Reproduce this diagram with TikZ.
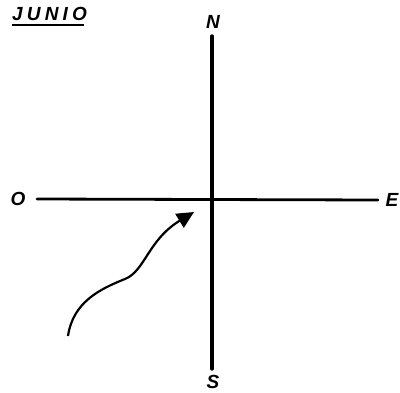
\documentclass[tikz,border=0pt]{standalone}
\usepackage{fontspec}
\setmainfont{Liberation Sans}
\usetikzlibrary{arrows.meta, positioning}
\begin{document}
\begin{tikzpicture}[x=1pt, y=-1pt,
      label/.style={font=\bfseries\itshape\fontsize{19}{19}\selectfont, inner sep=0pt},
      axis/.style={line width=3.4pt, draw=black, line cap=round},
      arrow/.style={-{Triangle[length=17pt, width=16pt]}, line width=2.2pt}
    ]
    \useasboundingbox (0,0) rectangle (400,392);
    % title
    \node[label, anchor=south west] (title) at (12,21) {\addfontfeatures{LetterSpace=22}JUNIO};
    \draw[line width=2pt] ([yshift=-4pt]title.south west) -- ([yshift=-4pt,xshift=-3pt]title.south east);

    % cardinal points
    \node[label] (n) at (213,22) {N};
    \node[label] (s) at (213,382) {S};
    \node[label] (o) at (18,199) {O};
    \node[label] (e) at (392,200) {E};

    \coordinate (top) at (212,36);
    \coordinate (bottom) at (212,369);
    \coordinate (left) at (37,199);
    \coordinate (right) at (378,200);
    \draw[axis] (top) -- (bottom);
    \draw[axis, line width=2.8pt] (left) -- (right);

    % wind arrow
    \coordinate (start) at (68,336);
    \coordinate (tip) at (194,212);
    \draw[arrow] (start) .. controls (73,302) and (100,289) .. (125,279)
      .. controls (145,271) and (148,240) .. (tip);
  \end{tikzpicture}
\end{document}
